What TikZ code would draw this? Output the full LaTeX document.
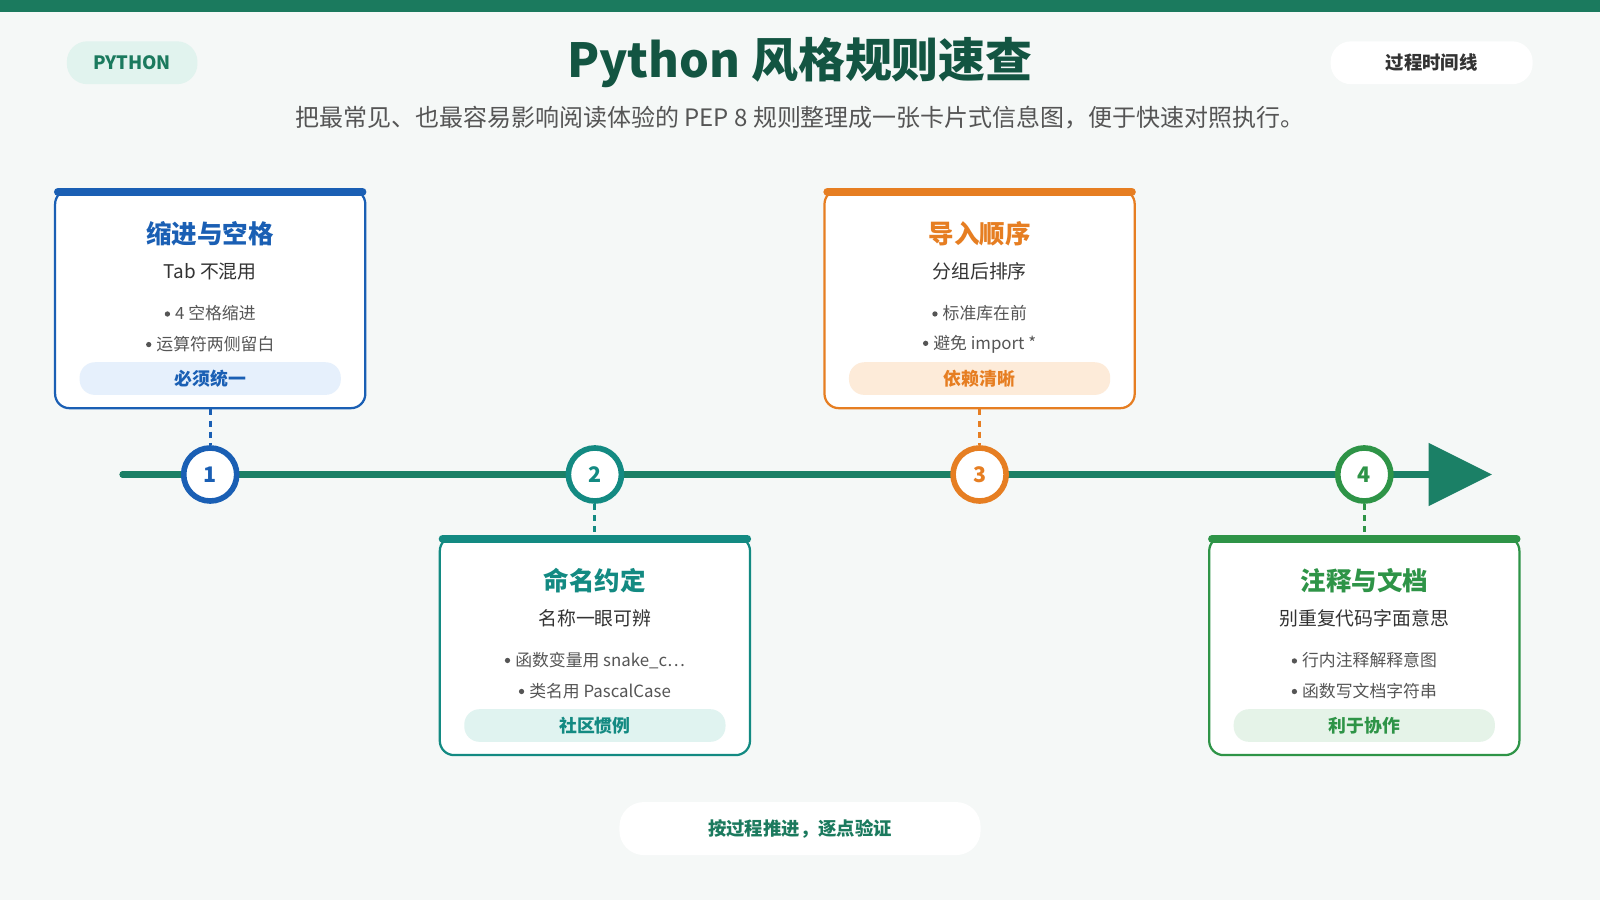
\documentclass[tikz,border=0pt]{standalone}
\usepackage{fontspec}
\setmainfont{Noto Sans CJK SC}
\usetikzlibrary{positioning}
\definecolor{bgc}{HTML}{F5F8F7}
\definecolor{topg}{HTML}{1B7A5E}
\definecolor{linec}{HTML}{1B8066}
\definecolor{cblue}{HTML}{1A5FB4}
\definecolor{cteal}{HTML}{138A82}
\definecolor{corange}{HTML}{E67E22}
\definecolor{cgreen}{HTML}{2E9447}
\definecolor{lblue}{HTML}{E6F0FC}
\definecolor{lteal}{HTML}{E0F3F0}
\definecolor{lorange}{HTML}{FDEBD9}
\definecolor{lgreen}{HTML}{E5F3E8}
\definecolor{txt}{HTML}{333333}
\definecolor{gry}{HTML}{555555}
\newcommand{\fs}[1]{\fontsize{#1}{#1}\selectfont}
\newcommand{\dotmark}{\raisebox{3pt}{\tikz\fill[gry] (0,0) circle (2.6pt);}\hspace{5pt}}
\tikzset{
  card/.style={draw=#1, line width=2.2pt, fill=white, rounded corners=14pt,
    minimum width=304pt, minimum height=214pt, inner sep=0pt},
  cardtitle/.style={text=#1, font=\fs{25}\bfseries},
  cardsub/.style={text=txt, font=\fs{18.5}},
  bullet/.style={text=gry, font=\fs{16.5}},
  pill/.style={fill=#1, rounded corners=15pt, minimum width=256pt, minimum height=32pt, inner sep=0pt},
  pilltext/.style={text=#1, font=\fs{17.5}\bfseries},
  step/.style={circle, draw=#1, line width=5.5pt, fill=white, minimum size=52pt,
    inner sep=0pt, text=#1, font=\fs{21}\bfseries},
  link/.style={draw=#1, line width=3pt, dash pattern=on 6pt off 5pt},
}
\begin{document}
\begin{tikzpicture}[x=1pt,y=-1pt]
\useasboundingbox (0,0) rectangle (1568,882);
\fill[bgc] (0,0) rectangle (1568,882);
\fill[topg] (0,0) rectangle (1568,12);

% header
\node[fill=lteal!80!lgreen, rounded corners=20pt, minimum width=128pt, minimum height=42pt,
  text=topg, font=\fs{18}\bfseries] (tag) at (129.5,61.5) {PYTHON};
\node[fill=white, rounded corners=20pt, minimum width=198pt, minimum height=42pt,
  text=txt, font=\fs{18}\bfseries] (mode) at (1403,61.5) {过程时间线};
\node[text=topg!70!black, font=\fs{46}\bfseries] (title) at (784,61) {Python 风格规则速查};
\node[text=gry, font=\fs{23.5}] (sub) at (784,115) {把最常见、也最容易影响阅读体验的 PEP 8 规则整理成一张卡片式信息图，便于快速对照执行。};

% timeline
\coordinate (tl0) at (120,465);
\coordinate (tl1) at (1405,465);
\draw[linec, line width=6pt, line cap=round] (tl0) -- (tl1);
\fill[linec] (1400,434) -- (1462,465) -- (1400,496) -- cycle;

% cards
\foreach \i/\x/\y/\c/\l/\t/\s/\ba/\bb/\p in {
  1/206/293/cblue/lblue/缩进与空格/Tab 不混用/4 空格缩进/运算符两侧留白/必须统一,
  2/583/633/cteal/lteal/命名约定/名称一眼可辨/函数变量用 snake\_c\ldots/类名用 PascalCase/社区惯例,
  3/960/293/corange/lorange/导入顺序/分组后排序/标准库在前/避免 import */依赖清晰,
  4/1337/633/cgreen/lgreen/注释与文档/别重复代码字面意思/行内注释解释意图/函数写文档字符串/利于协作}{
  \node[card=\c] (card\i) at (\x,\y) {};
  \draw[\c, line width=8pt, line cap=round] ([xshift=4pt,yshift=-3pt]card\i.north west) -- ([xshift=-4pt,yshift=-3pt]card\i.north east);
  \node[cardtitle=\c] (ttl\i) at (\x,\y-64) {\t};
  \node[cardsub] (sub\i) at (\x,\y-27) {\s};
  \node[bullet] (ba\i) at (\x,\y+14) {\dotmark\ba};
  \node[bullet] (bb\i) at (\x,\y+44) {\dotmark\bb};
  \node[pill=\l] (pl\i) at (\x,\y+78) {};
  \node[pilltext=\c] (pt\i) at (\x,\y+78) {\p};
  \node[step=\c] (st\i) at (\x,465) {\i};
}
\draw[link=cblue] (card1.south) -- (st1.north);
\draw[link=cteal] (st2.south) -- (card2.north);
\draw[link=corange] (card3.south) -- (st3.north);
\draw[link=cgreen] (st4.south) -- (card4.north);

% footer
\node[fill=white, rounded corners=24pt, minimum width=354pt, minimum height=52pt,
  text=topg, font=\fs{18}\bfseries] (foot) at (784,812) {按过程推进，逐点验证};
\end{tikzpicture}
\end{document}
